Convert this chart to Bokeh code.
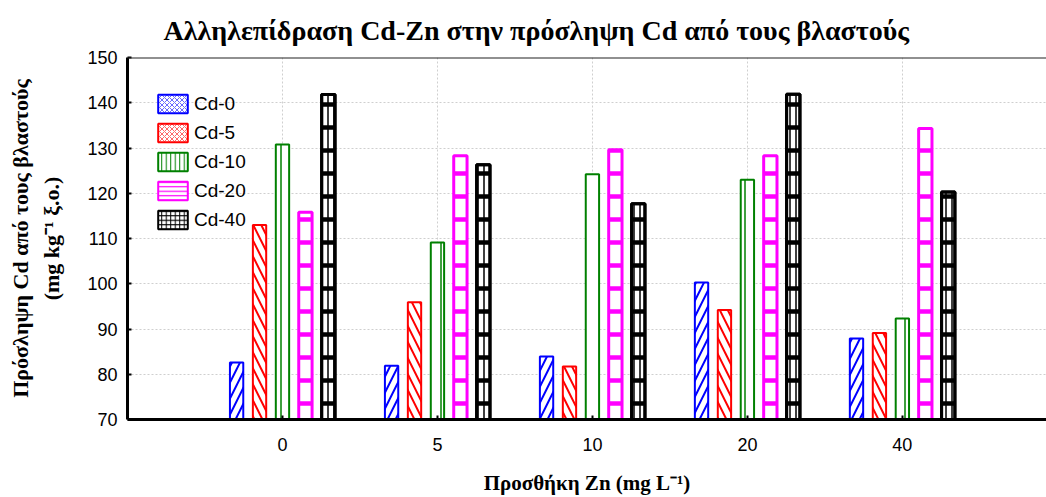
import numpy as np
from bokeh.plotting import figure
from bokeh.models import Range1d, FixedTicker, Span, Legend, LegendItem
from bokeh.embed import file_html
from bokeh.resources import INLINE

# Zn addition levels (mg/L) on the x axis
zn_labels = ["0", "5", "10", "20", "40"]

# Cd uptake by shoots (mg/kg dry weight) for each Cd treatment
series_names = ["Cd-0", "Cd-5", "Cd-10", "Cd-20", "Cd-40"]
cd0 = [82.6, 81.9, 83.9, 100.3, 87.9]
cd5 = [113.0, 95.9, 81.7, 94.2, 89.1]
cd10 = [130.8, 109.1, 124.2, 123.0, 92.3]
cd20 = [115.8, 128.3, 129.6, 128.3, 134.3]
cd40 = [141.8, 126.3, 117.7, 141.9, 120.3]
series_values = [cd0, cd5, cd10, cd20, cd40]

y_ticks = [70, 80, 90, 100, 110, 120, 130, 140, 150]

SERIF = "Liberation Serif"
SANS = "Liberation Sans"

p = figure(width=1046, height=497, output_backend="svg", toolbar_location=None,
           x_range=Range1d(-1, 4.93), y_range=Range1d(70, 150),
           min_border_left=127, min_border_right=0,
           min_border_top=57, min_border_bottom=77)
p.outline_line_color = None
p.background_fill_color = "white"

p.title.text = "Αλληλεπίδραση Cd-Zn στην πρόσληψη Cd από τους βλαστούς"
p.title.text_font = SERIF
p.title.text_font_size = "28px"
p.title.text_font_style = "bold"
p.title.text_color = "black"
p.title.text_line_height = 0.9
p.title.align = "left"
p.title.offset = 36
p.title.standoff = 23

# bar styling per series: colour, hatch, hatch spacing, hatch weight, outline width
styles = [
    dict(color="blue", hatch="/", scale=16, weight=2.0, lw=2),
    dict(color="red", hatch="\\", scale=16, weight=2.0, lw=2),
    dict(color="green", hatch="|", scale=16, weight=1.5, lw=2),
    dict(color="magenta", hatch="-", scale=23, weight=4.5, lw=3),
    dict(color="black", hatch="-", scale=23, weight=4.5, lw=3),
]

pitch = 0.148
bar_w = 0.086
xs = np.arange(len(zn_labels))

for k, (vals, st) in enumerate(zip(series_values, styles)):
    xk = xs + (k - 2) * pitch
    p.vbar(x=xk, top=vals, bottom=70, width=bar_w,
           fill_color="white", line_color=st["color"], line_width=st["lw"],
           hatch_pattern=st["hatch"], hatch_color=st["color"],
           hatch_scale=st["scale"], hatch_weight=st["weight"])
    if k == 4:
        # thin vertical rules inside the Cd-40 bars
        p.vbar(x=xk, top=vals, bottom=70, width=bar_w,
               fill_color=None, line_color=st["color"], line_width=st["lw"],
               hatch_pattern="|", hatch_color="black",
               hatch_scale=6, hatch_weight=1.5)

# legend swatches use a finer texture than the bars; these renderers
# are hidden and only supply the swatch styling
legend_styles = [
    dict(color="blue", hatch="x", scale=5, weight=0.6),
    dict(color="red", hatch="x", scale=5, weight=0.6),
    dict(color="green", hatch="|", scale=4.5, weight=1.0),
    dict(color="magenta", hatch="-", scale=4.5, weight=1.2),
    dict(color="black", hatch="+", scale=4.5, weight=1.0),
]
items = []
for k, (name, st) in enumerate(zip(series_names, legend_styles)):
    r = p.vbar(x=xs + (k - 2) * pitch, top=series_values[k], bottom=70, width=bar_w,
               fill_color="white", line_color=st["color"], line_width=2,
               hatch_pattern=st["hatch"], hatch_color=st["color"],
               hatch_scale=st["scale"], hatch_weight=st["weight"])
    r.visible = False
    items.append(LegendItem(label=name, renderers=[r]))

legend = Legend(items=items, location=(27, 188), orientation="vertical",
                glyph_width=37, glyph_height=23, label_height=23, spacing=6,
                padding=0, margin=0, label_standoff=3,
                border_line_color=None, background_fill_alpha=0,
                label_text_font=SANS, label_text_font_size="19px",
                label_text_color="black", click_policy="none")
p.add_layout(legend)

# top border of the frame
p.add_layout(Span(location=150, dimension="width", line_color="#222222", line_width=2))

# axes
p.xaxis.ticker = FixedTicker(ticks=list(xs))
p.xaxis.major_label_overrides = {int(i): lab for i, lab in zip(xs, zn_labels)}
p.yaxis.ticker = FixedTicker(ticks=y_ticks)

for ax in (p.xaxis[0], p.yaxis[0]):
    ax.axis_line_width = 3
    ax.axis_line_color = "black"
    ax.major_tick_in = 4
    ax.major_tick_out = 0
    ax.major_tick_line_width = 2
    ax.major_tick_line_color = "black"
    ax.minor_tick_line_color = None
    ax.major_label_text_font = SANS
    ax.major_label_text_font_size = "18px"
    ax.major_label_text_color = "black"
    ax.axis_label_text_font = SERIF
    ax.axis_label_text_font_style = "bold"
    ax.axis_label_text_color = "black"

p.yaxis.major_label_standoff = 10
p.xaxis.major_label_standoff = 18

p.xaxis.axis_label = "Προσθήκη Zn (mg L⁻¹)"
p.xaxis.axis_label_text_font_size = "21px"
p.xaxis.axis_label_standoff = 17

p.yaxis.axis_label = "Πρόσληψη Cd από τους βλαστούς\n(mg kg⁻¹ ξ.ο.)"
p.yaxis.axis_label_text_font_size = "22px"
p.yaxis.axis_label_text_line_height = 1.25
p.yaxis.axis_label_standoff = 20

# dotted grid
for g in (p.xgrid[0], p.ygrid[0]):
    g.grid_line_color = "#cfcfcf"
    g.grid_line_dash = "2 2"
    g.grid_line_width = 1
p.xgrid.ticker = FixedTicker(ticks=list(xs))
p.ygrid.ticker = FixedTicker(ticks=y_ticks)

open("out.html", "w").write(file_html(p, INLINE))
